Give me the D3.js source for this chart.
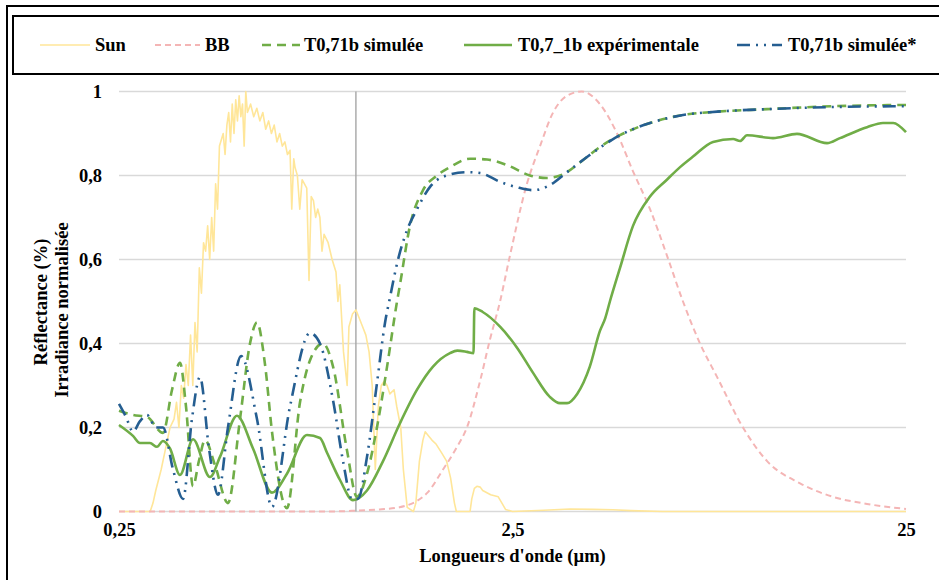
<!DOCTYPE html>
<html>
<head>
<meta charset="utf-8">
<script src="https://cdn.jsdelivr.net/npm/d3@7"></script>
<style>
  body { margin: 0; background: #fff; }
  svg { display: block; }
  text { font-family: "Liberation Serif", "Times New Roman", serif; font-weight: bold; fill: #000; }
</style>
</head>
<body>
<div id="chart"></div>
<script>
// Wavelengths in µm (0..1)
const sunX = [0.25, 0.29, 0.30, 0.305, 0.31, 0.32, 0.33, 0.337, 0.345, 0.35, 0.355, 0.36, 0.365, 0.37, 0.375, 0.38, 0.385, 0.39, 0.395, 0.40,
  0.405, 0.41, 0.415, 0.42, 0.425, 0.43, 0.435, 0.44, 0.445, 0.45, 0.46, 0.465, 0.47, 0.475, 0.48, 0.485, 0.49, 0.495, 0.50, 0.505,
  0.51, 0.515, 0.52, 0.525, 0.53, 0.54, 0.55, 0.56, 0.57, 0.58, 0.59, 0.60, 0.61, 0.62, 0.63, 0.64, 0.65, 0.66, 0.67, 0.68,
  0.687, 0.695, 0.70, 0.71, 0.72, 0.73, 0.74, 0.75, 0.76, 0.77, 0.78, 0.79, 0.80, 0.81, 0.82, 0.83, 0.85, 0.87, 0.89, 0.90,
  0.91, 0.93, 0.95, 0.96, 0.98, 1.0, 1.02, 1.04, 1.06, 1.08, 1.10, 1.12, 1.14, 1.16, 1.18, 1.20, 1.22, 1.25, 1.27, 1.30,
  1.32, 1.35, 1.40, 1.42, 1.45, 1.48, 1.50, 1.53, 1.56, 1.60, 1.65, 1.70, 1.74, 1.78, 1.80, 1.95, 1.97, 2.0, 2.03, 2.07,
  2.10, 2.20, 2.30, 2.35, 2.40, 2.50, 3.0, 3.5, 4.0, 4.5, 5.0, 6.0, 25];
const sunY = [0, 0, 0, 0.02, 0.05, 0.10, 0.16, 0.20, 0.22, 0.26, 0.20, 0.30, 0.27, 0.35, 0.30, 0.42, 0.30, 0.45, 0.38, 0.58,
  0.52, 0.64, 0.62, 0.68, 0.60, 0.70, 0.62, 0.78, 0.72, 0.87, 0.90, 0.85, 0.92, 0.95, 0.88, 0.97, 0.90, 0.98, 0.93, 0.99,
  0.94, 0.97, 0.87, 1.0, 0.95, 0.97, 0.94, 0.96, 0.93, 0.95, 0.91, 0.93, 0.90, 0.92, 0.88, 0.90, 0.87, 0.88, 0.85, 0.86,
  0.72, 0.84, 0.82, 0.80, 0.72, 0.79, 0.78, 0.77, 0.55, 0.75, 0.74, 0.70, 0.72, 0.70, 0.62, 0.66, 0.64, 0.60, 0.57, 0.50,
  0.54, 0.38, 0.30, 0.44, 0.47, 0.48, 0.46, 0.44, 0.42, 0.38, 0.30, 0.10, 0.25, 0.30, 0.31, 0.30, 0.28, 0.29, 0.25, 0.20,
  0.10, 0.01, 0, 0.02, 0.12, 0.17, 0.19, 0.18, 0.17, 0.16, 0.14, 0.12, 0.08, 0.02, 0, 0, 0.03, 0.055, 0.06, 0.058,
  0.05, 0.04, 0.035, 0.02, 0.005, 0, 0.003, 0.006, 0.005, 0.004, 0.002, 0, 0];

const bbX = [0.25, 0.86, 1.0, 1.15, 1.29, 1.52, 1.665, 1.81, 1.915, 2.067, 2.192, 2.324, 2.464, 2.72, 2.937, 3.17, 3.44, 3.75,
  4.17, 4.61, 5.06, 5.59, 6.17, 6.78, 7.49, 8.28, 9.63, 11.09, 13.45, 16.3, 19.9, 25];
const bbY = [0, 0, 0.002, 0.005, 0.01, 0.045, 0.10, 0.155, 0.20, 0.31, 0.41, 0.50, 0.61, 0.78, 0.87, 0.95, 0.99, 1.0,
  0.97, 0.90, 0.81, 0.72, 0.61, 0.50, 0.40, 0.32, 0.20, 0.12, 0.067, 0.035, 0.018, 0.006];

const simX = [0.25, 0.2713, 0.2945, 0.3234, 0.341, 0.3572, 0.37, 0.3855, 0.399, 0.4135, 0.4385, 0.473, 0.5075, 0.5381, 0.5605,
  0.5875, 0.612, 0.668, 0.721, 0.7645, 0.8248, 0.8747, 0.949, 1.006, 1.067, 1.131, 1.20, 1.272, 1.294, 1.372, 1.481, 1.607,
  1.734, 1.95, 2.154, 2.42, 2.77, 3.06, 3.36, 3.78, 4.17, 4.69, 5.59, 6.78, 8.28, 11.09, 16.3, 25];
const simY = [0.24, 0.23, 0.225, 0.187, 0.29, 0.354, 0.25, 0.06, 0.12, 0.17, 0.11, 0.02, 0.22, 0.40, 0.45,
  0.35, 0.19, 0.008, 0.26, 0.36, 0.40, 0.345, 0.146, 0.035, 0.09, 0.20, 0.345, 0.50, 0.54, 0.68, 0.765, 0.80,
  0.82, 0.84, 0.838, 0.825, 0.80, 0.794, 0.803, 0.837, 0.868, 0.896, 0.925, 0.944, 0.952, 0.958, 0.965, 0.968];

const expX = [0.25, 0.2713, 0.2827, 0.2997, 0.3122, 0.3234, 0.3369, 0.3572, 0.3855, 0.4258, 0.4514, 0.4986, 0.5476, 0.612,
  0.668, 0.751, 0.8105, 0.8445, 0.911, 0.983, 1.067, 1.172, 1.294, 1.43, 1.57, 1.734, 1.81, 1.915, 1.99, 2.0, 2.10, 2.324,
  2.567, 2.82, 3.11, 3.30, 3.44, 3.65, 3.93, 4.17, 4.30, 4.42, 4.69, 5.06, 5.59, 6.17, 6.665, 7.19, 8.08, 9.09, 9.47, 9.86,
  11.48, 13.21, 15.75, 16.99, 19.9, 21.85, 23.2, 25];
const expY = [0.206, 0.18, 0.163, 0.163, 0.154, 0.168, 0.15, 0.087, 0.172, 0.082, 0.13, 0.228, 0.15, 0.045,
  0.09, 0.182, 0.175, 0.14, 0.075, 0.027, 0.05, 0.12, 0.21, 0.29, 0.345, 0.377, 0.383, 0.38, 0.377, 0.484, 0.475, 0.44,
  0.39, 0.33, 0.273, 0.258, 0.258, 0.28, 0.345, 0.43, 0.46, 0.50, 0.58, 0.68, 0.75, 0.79, 0.82, 0.845, 0.88, 0.887, 0.882, 0.896,
  0.889, 0.899, 0.877, 0.889, 0.915, 0.925, 0.925, 0.903];

const sim2X = [0.25, 0.2605, 0.2713, 0.2827, 0.2945, 0.31, 0.3234, 0.343, 0.3636, 0.3831, 0.4016, 0.4233, 0.4462, 0.473,
  0.5105, 0.5605, 0.612, 0.68, 0.7645, 0.8105, 0.8747, 0.9274, 0.977, 1.012, 1.067, 1.131, 1.186, 1.221, 1.272, 1.349, 1.43,
  1.543, 1.665, 1.915, 2.067, 2.324, 2.567, 2.82, 3.11, 3.44, 3.866, 4.69, 5.59, 6.78, 8.28, 11.09, 16.3, 25];
const sim2Y = [0.256, 0.225, 0.19, 0.215, 0.23, 0.20, 0.20, 0.10, 0.03, 0.22, 0.32, 0.15, 0.04, 0.20,
  0.37, 0.22, 0.011, 0.25, 0.425, 0.40, 0.265, 0.12, 0.03, 0.03, 0.13, 0.305, 0.45, 0.51, 0.59, 0.67, 0.72,
  0.773, 0.797, 0.808, 0.806, 0.785, 0.772, 0.765, 0.777, 0.808, 0.844, 0.896, 0.925, 0.944, 0.952, 0.958, 0.963, 0.965];

const xTicks = [0.25, 2.5, 25];
const yTicks = [0, 0.2, 0.4, 0.6, 0.8, 1];

const series = [
  { name: 'Sun', xs: sunX, ys: sunY, color: '#ffe699', width: 1.6, dash: null, curve: d3.curveLinear },
  { name: 'BB', xs: bbX, ys: bbY, color: '#f4b5b5', width: 2, dash: '6,4', curve: d3.curveMonotoneX },
  { name: 'T0,71b simulée', xs: simX, ys: simY, color: '#70ad47', width: 2.6, dash: '9,6', curve: d3.curveMonotoneX },
  { name: 'T0,7_1b expérimentale', xs: expX, ys: expY, color: '#70ad47', width: 2.6, dash: null, curve: d3.curveMonotoneX },
  { name: 'T0,71b simulée*', xs: sim2X, ys: sim2Y, color: '#255e91', width: 2.6, dash: '13,6,2,6,2,6', curve: d3.curveMonotoneX }
];

const W = 939, H = 580;
const FS = '18.5px';
const svg = d3.select('#chart').append('svg').attr('width', W).attr('height', H);

// outer frame and legend box
svg.append('rect').attr('x', 7).attr('y', 6).attr('width', W + 10).attr('height', H + 10)
  .attr('fill', 'none').attr('stroke', '#000').attr('stroke-width', 2);
svg.append('rect').attr('x', 13).attr('y', 16).attr('width', W + 10).attr('height', 58)
  .attr('fill', '#fff').attr('stroke', '#000').attr('stroke-width', 2);

const x = d3.scaleLog().domain([0.25, 25]).range([119, 906]);
const y = d3.scaleLinear().domain([0, 1]).range([511.5, 91.5]);
const fmt = v => String(v).replace('.', ',');

// gridlines
svg.append('g').selectAll('line').data(yTicks).enter().append('line')
  .attr('x1', x(0.25)).attr('x2', x(25))
  .attr('y1', d => y(d)).attr('y2', d => y(d))
  .attr('stroke', '#d9d9d9').attr('stroke-width', 1.3);

// vertical line at 1 µm
svg.append('line')
  .attr('x1', x(1)).attr('x2', x(1)).attr('y1', y(1)).attr('y2', y(0))
  .attr('stroke', '#a6a6a6').attr('stroke-width', 1.4);

// axes (labels only)
const yAxis = svg.append('g').attr('transform', 'translate(102,0)')
  .call(d3.axisLeft(y).tickValues(yTicks).tickFormat(fmt).tickSize(0).tickPadding(0));
yAxis.select('.domain').remove();
yAxis.selectAll('text').style('font-size', FS).attr('dy', '0.35em');

const xAxis = svg.append('g').attr('transform', 'translate(0,523)')
  .call(d3.axisBottom(x).tickValues(xTicks).tickFormat(fmt).tickSize(0).tickPadding(0));
xAxis.select('.domain').remove();
xAxis.selectAll('text').style('font-size', FS);

// series
series.forEach(s => {
  const pts = s.xs.map((v, i) => [v, s.ys[i]]);
  const line = d3.line().x(d => x(d[0])).y(d => y(d[1])).curve(s.curve);
  svg.append('path').datum(pts)
    .attr('fill', 'none')
    .attr('stroke', s.color)
    .attr('stroke-width', s.width)
    .attr('stroke-dasharray', s.dash)
    .attr('stroke-linejoin', 'round')
    .attr('d', line);
});

// axis titles
svg.append('text').attr('x', x(2.5)).attr('y', 562).attr('text-anchor', 'middle')
  .style('font-size', FS).text("Longueurs d'onde (µm)");
svg.append('text').attr('transform', 'translate(47,302) rotate(-90)').attr('text-anchor', 'middle')
  .style('font-size', FS).text('Réflectance (%)');
svg.append('text').attr('transform', 'translate(68,310) rotate(-90)').attr('text-anchor', 'middle')
  .style('font-size', FS).text('Irradiance normalisée');

// legend
const legendPos = [
  { x1: 40, x2: 90, tx: 95 },
  { x1: 155, x2: 200, tx: 205 },
  { x1: 262, x2: 300, tx: 304 },
  { x1: 464, x2: 512, tx: 518 },
  { x1: 737, x2: 782, tx: 788 }
];
const lg = svg.append('g');
series.forEach((s, i) => {
  const p = legendPos[i];
  lg.append('line').attr('x1', p.x1).attr('x2', p.x2).attr('y1', 45).attr('y2', 45)
    .attr('stroke', s.color).attr('stroke-width', s.width)
    .attr('stroke-dasharray', s.dash);
  lg.append('text').attr('x', p.tx).attr('y', 45).attr('dy', '0.35em')
    .style('font-size', FS).text(s.name);
});
</script>
</body>
</html>
